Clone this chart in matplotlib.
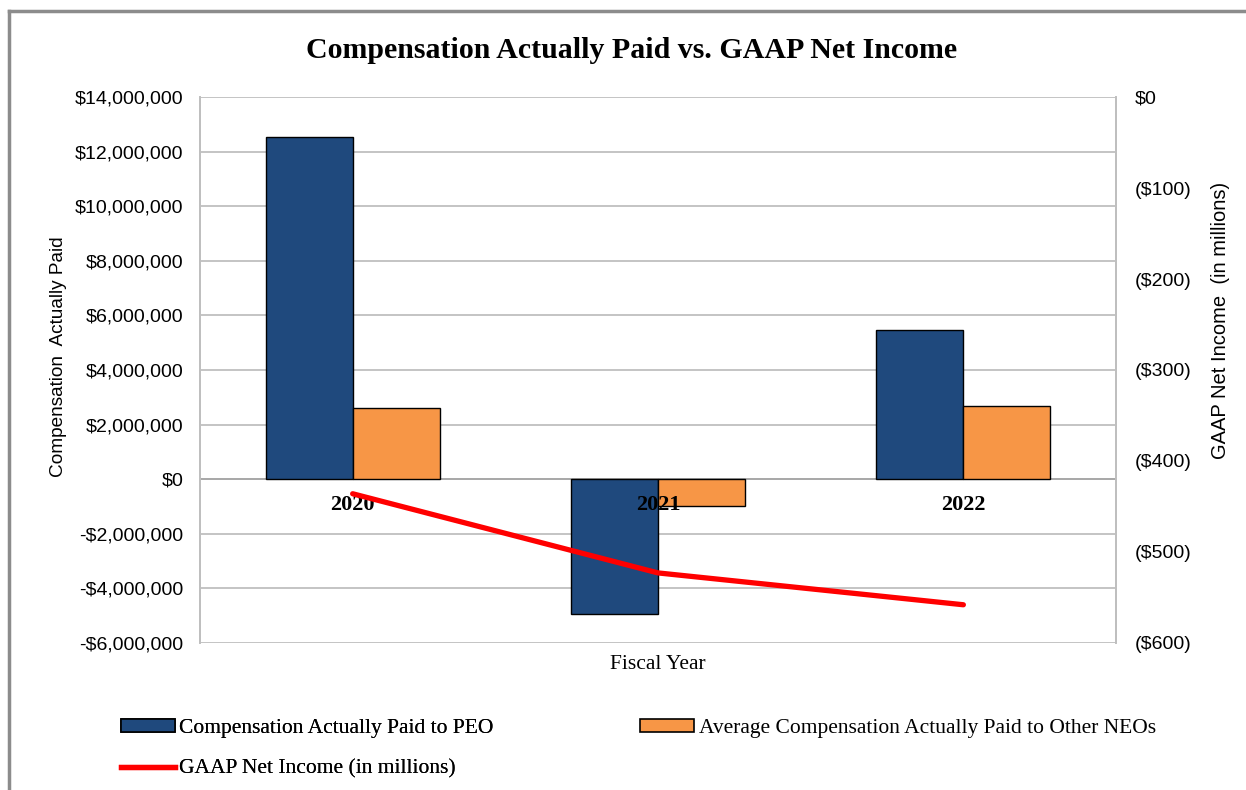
import numpy as np
import matplotlib.pyplot as plt
from matplotlib.lines import Line2D
from matplotlib.patches import Patch
from matplotlib.ticker import FuncFormatter

# Data
YEARS = ['2020', '2021', '2022']
CAP_PEO = [12550000, -4950000, 5460000]        # Compensation Actually Paid to PEO
CAP_NEO = [2600000, -990000, 2670000]          # Average CAP to other NEOs
NET_INCOME = [-436, -523, -558]                # GAAP net income, $ millions

PEO_COLOR = '#1f497d'
NEO_COLOR = '#f79646'
LINE_COLOR = '#ff0000'
GRID_COLOR = '#bfbfbf'

SERIF = 'Liberation Serif'
SANS = 'Liberation Sans'


def left_fmt(v, pos):
    if v < 0:
        return '-${:,.0f}'.format(-v)
    return '${:,.0f}'.format(v)


def right_fmt(v, pos):
    if v < 0:
        return '(${:,.0f})'.format(-v)
    return '${:,.0f}'.format(v)


def main():
    fig = plt.figure(figsize=(12.46, 7.90), dpi=100)
    ax = fig.add_axes([0.1605, 0.1861, 0.7352, 0.6911])
    ax2 = ax.twinx()

    x = np.arange(len(YEARS))
    w = 0.285

    ax.bar(x - w / 2, CAP_PEO, w, color=PEO_COLOR, edgecolor='black', linewidth=1, zorder=3)
    ax.bar(x + w / 2, CAP_NEO, w, color=NEO_COLOR, edgecolor='black', linewidth=1, zorder=3)

    ax.set_xlim(-0.5, 2.5)
    ax.set_ylim(-6000000, 14000000)
    ax.set_yticks(np.arange(-6000000, 14000001, 2000000))
    ax.yaxis.set_major_formatter(FuncFormatter(left_fmt))
    ax.set_xticks([])
    ax.grid(axis='y', color=GRID_COLOR, linewidth=1.3, zorder=0)
    ax.axhline(0, color='#a6a6a6', linewidth=1.3, zorder=2)
    ax.tick_params(axis='y', length=0, pad=12, labelsize=14)
    for lab in ax.get_yticklabels():
        lab.set_fontfamily(SANS)
    ax.set_ylabel('Compensation  Actually Paid', fontfamily=SANS, fontsize=13.7)
    ax.yaxis.set_label_coords(-0.145, 0.524)

    # year labels sit just under the zero line, drawn over the bars
    for i, yr in enumerate(YEARS):
        ax.text(i, -930000, yr, ha='center', va='center', fontfamily=SERIF,
                fontweight='bold', fontsize=16, zorder=6)

    ax2.plot(x, NET_INCOME, color=LINE_COLOR, linewidth=3.8, solid_capstyle='round', zorder=5)
    ax2.set_ylim(-600, 0)
    ax2.set_yticks(np.arange(-600, 1, 100))
    ax2.yaxis.set_major_formatter(FuncFormatter(right_fmt))
    ax2.tick_params(axis='y', length=0, pad=13.3, labelsize=14)
    for lab in ax2.get_yticklabels():
        lab.set_fontfamily(SANS)
        lab.set_horizontalalignment('left')
    ax2.set_ylabel('GAAP Net Income  (in millions)', fontfamily=SANS, fontsize=14.5)
    ax2.yaxis.set_label_coords(1.1039, 0.59)

    # line drawn on top of the bars
    ax.set_zorder(1)
    ax2.set_zorder(2)
    ax2.patch.set_visible(False)
    ax.patch.set_visible(False)

    for a in (ax, ax2):
        for side in ('top', 'bottom'):
            a.spines[side].set_visible(False)
        a.spines['left'].set_color(GRID_COLOR)
        a.spines['right'].set_color(GRID_COLOR)
        a.spines['left'].set_linewidth(1.3)
        a.spines['right'].set_linewidth(1.3)

    ax.set_xlabel('Fiscal Year', fontfamily=SERIF, fontsize=15.5, labelpad=8.5)

    fig.suptitle('Compensation Actually Paid vs. GAAP Net Income', x=0.507, y=0.953,
                 fontfamily=SERIF, fontweight='bold', fontsize=21.5)

    legend_kw = dict(frameon=False, prop={'family': SERIF, 'size': 15.5},
                     handlelength=2.5, handleheight=0.55, handletextpad=0.2,
                     labelspacing=0.98, borderaxespad=0, borderpad=0)
    leg1 = fig.legend(
        [Patch(facecolor=PEO_COLOR, edgecolor='black', linewidth=1.2),
         Line2D([0], [0], color=LINE_COLOR, linewidth=3.8)],
        ['Compensation Actually Paid to PEO', 'GAAP Net Income (in millions)'],
        loc='upper left', bbox_to_anchor=(0.097, 0.0894), **legend_kw)
    fig.add_artist(leg1)
    fig.legend(
        [Patch(facecolor=NEO_COLOR, edgecolor='black', linewidth=1.2)],
        ['Average Compensation Actually Paid to Other NEOs'],
        loc='upper left', bbox_to_anchor=(0.5140, 0.0894), **legend_kw)

    # outer frame (top and left edges only, as in the source)
    fig.add_artist(Line2D([0.0075, 0.0075], [0, 0.9865], transform=fig.transFigure,
                          color='#8c8c8c', linewidth=2.5))
    fig.add_artist(Line2D([0.0075, 1.0], [0.9865, 0.9865], transform=fig.transFigure,
                          color='#8c8c8c', linewidth=2.5))

    fig.savefig('out.png', dpi=100, facecolor='white')


if __name__ == '__main__':
    main()
